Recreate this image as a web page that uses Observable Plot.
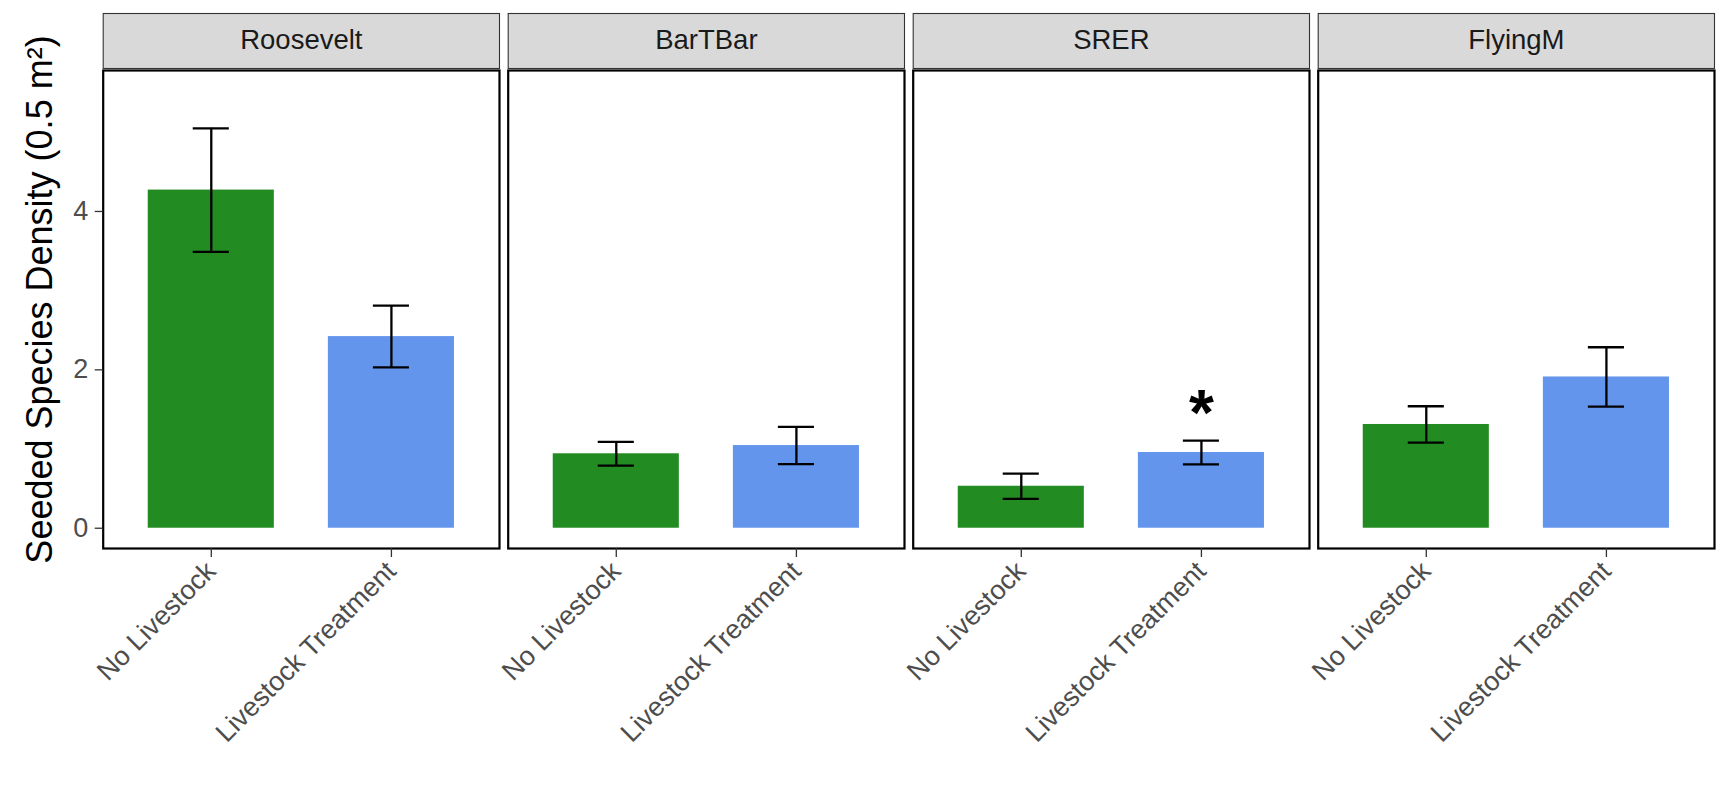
<!DOCTYPE html>
<html>
<head>
<meta charset="utf-8">
<script src="https://cdn.jsdelivr.net/npm/d3@7"></script>
<script src="https://cdn.jsdelivr.net/npm/@observablehq/plot@0.6"></script>
<style>
  html, body { margin: 0; padding: 0; background: #ffffff; overflow: hidden; }
  #chart { width: 1719px; height: 785px; }
</style>
</head>
<body>
<div id="chart"></div>
<script>
// ---- data ----
const sites = ["Roosevelt", "BarTBar", "SRER", "FlyingM"];
const treatments = ["No Livestock", "Livestock Treatment"];
const meanNoLivestock = [4.27, 0.94, 0.53, 1.31];
const seNoLivestock   = [0.78, 0.15, 0.16, 0.23];
const meanLivestock   = [2.42, 1.044, 0.956, 1.91];
const seLivestock     = [0.39, 0.235, 0.15, 0.375];
const treatmentColors = ["#228B22", "#6495ED"];
const yTicks = [0, 2, 4];
const yDomain = [-0.256, 5.78];
const yTitle = "Seeded Species Density (0.5 m²)";
const signifSites = ["SRER"];
const signifTreatment = ["Livestock Treatment"];
const signifY = [1.43];
const signifLabel = ["*"];

// ---- table built from the arrays ----
const rows = [];
sites.forEach((s, i) => {
  rows.push({site: s, treatment: treatments[0], mean: meanNoLivestock[i], lo: meanNoLivestock[i] - seNoLivestock[i], hi: meanNoLivestock[i] + seNoLivestock[i]});
  rows.push({site: s, treatment: treatments[1], mean: meanLivestock[i], lo: meanLivestock[i] - seLivestock[i], hi: meanLivestock[i] + seLivestock[i]});
});
const signif = signifSites.map((s, i) => ({site: s, treatment: signifTreatment[i], y: signifY[i], label: signifLabel[i]}));

const font = "'Liberation Sans', Arial, Helvetica, sans-serif";

const chart = Plot.plot({
  width: 1719,
  height: 785,
  marginLeft: 102.7,
  marginRight: 5,
  marginTop: 70,
  marginBottom: 237,
  style: {fontFamily: font, fontSize: "24px", background: "#ffffff", color: "#000"},
  fx: {domain: sites, axis: null, paddingInner: 0.0215, paddingOuter: 0, round: false, label: null},
  x: {domain: treatments, paddingInner: 0.3, paddingOuter: 0.25, round: false, axis: null, label: null},
  y: {domain: yDomain, axis: null, label: null},
  color: {domain: treatments, range: treatmentColors},
  marks: [
    // strip backgrounds
    Plot.frame({fill: "#D9D9D9", stroke: "#333333", strokeWidth: 1.1, insetTop: -57, insetBottom: 480}),
    // strip labels
    Plot.text(sites, {fx: d => d, text: d => d, frameAnchor: "top", lineAnchor: "middle", dy: -30, fontSize: 27.5, fill: "#1A1A1A"}),
    // panel background
    Plot.frame({fill: "#ffffff"}),
    Plot.barY(rows, {fx: "site", x: "treatment", y: "mean", fill: "treatment"}),
    Plot.ruleX(rows, {fx: "site", x: "treatment", y1: "lo", y2: "hi", stroke: "#000", strokeWidth: 2.3}),
    Plot.tickY(rows, {fx: "site", x: "treatment", y: "hi", stroke: "#000", strokeWidth: 2.3, insetLeft: 45, insetRight: 45}),
    Plot.tickY(rows, {fx: "site", x: "treatment", y: "lo", stroke: "#000", strokeWidth: 2.3, insetLeft: 45, insetRight: 45}),
    Plot.text(signif, {fx: "site", x: "treatment", y: "y", text: "label", fontSize: 64, fontWeight: "bold", fill: "#000"}),
    // panel border
    Plot.frame({stroke: "#000", strokeWidth: 2.2}),
    // axes
    Plot.axisY({ticks: yTicks, tickFormat: d3.format("d"), tickSize: 8, tickPadding: 7, label: null, facetAnchor: "left", fontSize: 27, fill: "#4D4D4D", stroke: "#333333", strokeWidth: 1.3}),
    Plot.axisX({tickSize: 9, tickPadding: 9, tickRotate: -45, label: null, fontSize: 27, fill: "#4D4D4D", stroke: "#333333", strokeWidth: 1.3}),
    Plot.text([yTitle], {fx: () => sites[0], text: d => d, frameAnchor: "left", textAnchor: "middle", lineAnchor: "middle", rotate: -90, dx: -63, dy: -10, fontSize: 36, fill: "#000"})
  ]
});
document.getElementById("chart").appendChild(chart);
</script>
</body>
</html>
